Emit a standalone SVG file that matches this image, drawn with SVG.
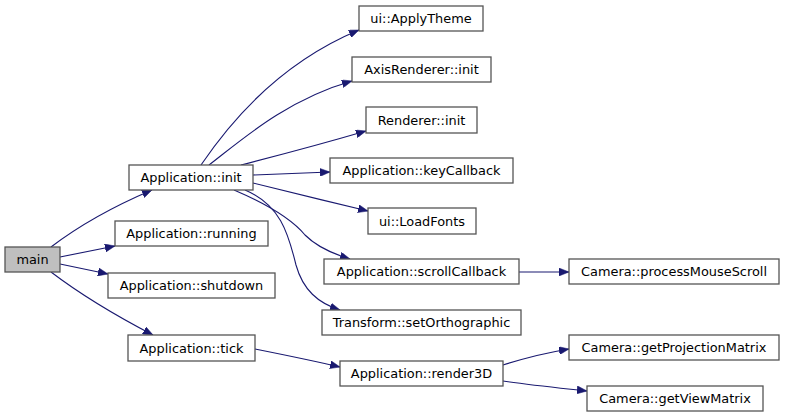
<svg xmlns="http://www.w3.org/2000/svg" width="785" height="417" viewBox="0 0 785 417">
<defs>
<marker id="ah" markerWidth="10" markerHeight="8" refX="10" refY="4" orient="auto" markerUnits="userSpaceOnUse">
<polygon points="0,0 10,4 0,8" fill="#191970" stroke="#191970" stroke-width="0.5"/>
</marker>
<style>
.n rect{fill:#ffffff;stroke:#555555;stroke-width:1.3}
.n text{font-family:"DejaVu Sans",sans-serif;font-size:12.9px;fill:#000;text-anchor:middle}
#main rect{fill:#bfbfbf}
#edges path{fill:none;stroke:#191970;stroke-width:1.1;marker-end:url(#ah)}
</style>
</defs>
<rect width="785" height="417" fill="#ffffff"/>
<g id="edges">
<path d="M51,247 C72,231 105,210 152,190"/>
<path d="M60,257 L115,246"/>
<path d="M60,264 L108,274"/>
<path d="M51,272 C72,288 105,310 153,335"/>
<path d="M201,165 C226,128 275,65 359,30"/>
<path d="M209,165 C238,143 285,100 352,81"/>
<path d="M241,165 C280,155 325,143 366,131"/>
<path d="M253,175 C280,174 305,173 330,172"/>
<path d="M253,183 C290,192 330,202 368,211"/>
<path d="M234,190 C262,202 290,217 305,235 C316,246 330,253 350,259"/>
<path d="M245,190 C280,205 288,232 296,265 C303,290 318,303 340,310"/>
<path d="M519,272 L569,272"/>
<path d="M255,349 C285,355 310,360 340,367"/>
<path d="M503,365 C525,358 545,353 569,349"/>
<path d="M503,381 C530,385 560,388 587,391"/>
</g>
<g id="main" class="n"><rect x="5" y="247" width="55" height="25"/><text x="32.5" y="264">main</text></g>
<g id="app_init" class="n"><rect x="129" y="165" width="124" height="25"/><text x="191" y="182">Application::init</text></g>
<g id="app_running" class="n"><rect x="115" y="221" width="153" height="25"/><text x="191.5" y="238">Application::running</text></g>
<g id="app_shutdown" class="n"><rect x="108" y="273" width="167" height="25"/><text x="191.5" y="290">Application::shutdown</text></g>
<g id="app_tick" class="n"><rect x="128" y="335" width="127" height="26"/><text x="191.5" y="352.5">Application::tick</text></g>
<g id="ui_applytheme" class="n"><rect x="359" y="6" width="124" height="25"/><text x="421" y="23">ui::ApplyTheme</text></g>
<g id="axis_init" class="n"><rect x="352" y="57" width="139" height="25"/><text x="421.5" y="74">AxisRenderer::init</text></g>
<g id="renderer_init" class="n"><rect x="366" y="107" width="111" height="26"/><text x="421.5" y="124.5">Renderer::init</text></g>
<g id="app_keycb" class="n"><rect x="330" y="158" width="183" height="25"/><text x="421.5" y="175">Application::keyCallback</text></g>
<g id="ui_loadfonts" class="n"><rect x="368" y="208" width="108" height="26"/><text x="422" y="225.5">ui::LoadFonts</text></g>
<g id="app_scrollcb" class="n"><rect x="324" y="259" width="195" height="25"/><text x="421.5" y="276">Application::scrollCallback</text></g>
<g id="transform_ortho" class="n"><rect x="322" y="310" width="199" height="25"/><text x="421.5" y="327">Transform::setOrthographic</text></g>
<g id="app_render3d" class="n"><rect x="340" y="361" width="163" height="25"/><text x="421.5" y="378">Application::render3D</text></g>
<g id="cam_scroll" class="n"><rect x="569" y="259" width="210" height="25"/><text x="674" y="276">Camera::processMouseScroll</text></g>
<g id="cam_proj" class="n"><rect x="569" y="335" width="210" height="25"/><text x="674" y="352">Camera::getProjectionMatrix</text></g>
<g id="cam_view" class="n"><rect x="587" y="386" width="176" height="25"/><text x="675" y="403">Camera::getViewMatrix</text></g>
</svg>
